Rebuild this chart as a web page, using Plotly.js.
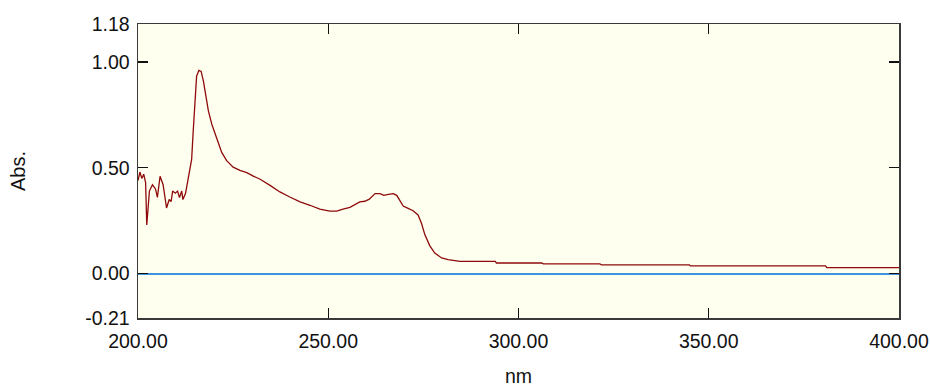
<!DOCTYPE html>
<html>
<head>
<meta charset="utf-8">
<script src="https://cdn.plot.ly/plotly-3.0.1.min.js"></script>
<style>html,body{margin:0;padding:0;background:#fff;}#chart{width:930px;height:388px;}</style>
</head>
<body>
<div id="chart"></div>
<script>
const wavelength = [200.0, 200.5, 201.0, 201.5, 202.0, 202.3, 203.0, 203.8, 204.6, 205.1, 205.8, 206.6, 207.5, 208.2, 208.7, 209.1, 209.8, 210.4, 210.9, 211.5, 211.8, 212.5, 213.2, 213.8, 214.1, 214.5, 215.0, 215.4, 216.0, 216.6, 217.2, 217.9, 218.5, 219.4, 220.7, 222.0, 223.3, 225.0, 226.8, 228.6, 230.3, 232.1, 234.7, 237.3, 239.9, 242.6, 245.2, 247.8, 250.4, 252.2, 253.9, 255.7, 258.3, 259.6, 260.8, 261.7, 262.3, 263.6, 264.6, 265.8, 267.1, 268.0, 268.8, 269.7, 271.0, 272.3, 273.6, 274.5, 275.4, 276.7, 278.0, 279.8, 281.5, 284.6, 293.9, 294.2, 306.1, 306.5, 321.4, 321.8, 344.9, 345.2, 380.7, 381.0, 400.0];
const absorbance = [0.44, 0.48, 0.45, 0.47, 0.43, 0.23, 0.39, 0.42, 0.40, 0.36, 0.46, 0.42, 0.31, 0.35, 0.34, 0.39, 0.38, 0.39, 0.36, 0.39, 0.35, 0.38, 0.45, 0.50, 0.54, 0.67, 0.855, 0.933, 0.961, 0.956, 0.909, 0.839, 0.769, 0.706, 0.636, 0.573, 0.534, 0.503, 0.488, 0.477, 0.461, 0.446, 0.417, 0.386, 0.362, 0.339, 0.323, 0.305, 0.295, 0.295, 0.305, 0.313, 0.339, 0.342, 0.352, 0.366, 0.378, 0.378, 0.370, 0.374, 0.378, 0.370, 0.344, 0.319, 0.308, 0.297, 0.277, 0.238, 0.183, 0.131, 0.097, 0.074, 0.066, 0.058, 0.058, 0.050, 0.050, 0.046, 0.046, 0.041, 0.041, 0.036, 0.036, 0.028, 0.028];

const xTickVals = [200, 250, 300, 350, 400];
const xTickText = ['200.00', '250.00', '300.00', '350.00', '400.00'];
const yTickVals = [-0.21, 0, 0.5, 1.0, 1.18];
const yTickText = ['-0.21', '0.00', '0.50', '1.00', '1.18'];
const xRange = [200, 400];
const yRange = [-0.21, 1.18];

const FONT = 'Liberation Sans, Arial, sans-serif';

const traces = [{
  x: wavelength, y: absorbance, type: 'scatter', mode: 'lines',
  line: {color: '#8E0A0A', width: 1.3}, hoverinfo: 'skip'
}];

const axisCommon = {
  showgrid: false, showline: true, linecolor: '#3a3a3a', linewidth: 1.5,
  mirror: 'ticks', ticks: 'inside', ticklen: 10, tickwidth: 1.2, tickcolor: '#111',
  tickmode: 'array', tickfont: {family: FONT, size: 19.5, color: '#111'},
  ticklabeloverflow: 'allow'
};

const layout = {
  width: 930, height: 388,
  margin: {l: 138, r: 31, t: 24, b: 70, pad: 0},
  paper_bgcolor: '#ffffff', plot_bgcolor: '#FFFFF0',
  showlegend: false,
  xaxis: Object.assign({}, axisCommon, {
    range: xRange, tickvals: xTickVals, ticktext: xTickText, zeroline: false,
    ticklabelstandoff: 5,
    title: {text: 'nm', font: {family: FONT, size: 19.5, color: '#111'}, standoff: 18}
  }),
  yaxis: Object.assign({}, axisCommon, {
    range: yRange, tickvals: yTickVals, ticktext: yTickText,
    zeroline: true, zerolinecolor: '#3E93DF', zerolinewidth: 2,
    ticklabelstandoff: 3,
    title: {text: 'Abs.', font: {family: FONT, size: 20, color: '#111'}, standoff: 54}
  })
};

Plotly.newPlot('chart', traces, layout, {staticPlot: true, displayModeBar: false});
</script>
</body>
</html>
